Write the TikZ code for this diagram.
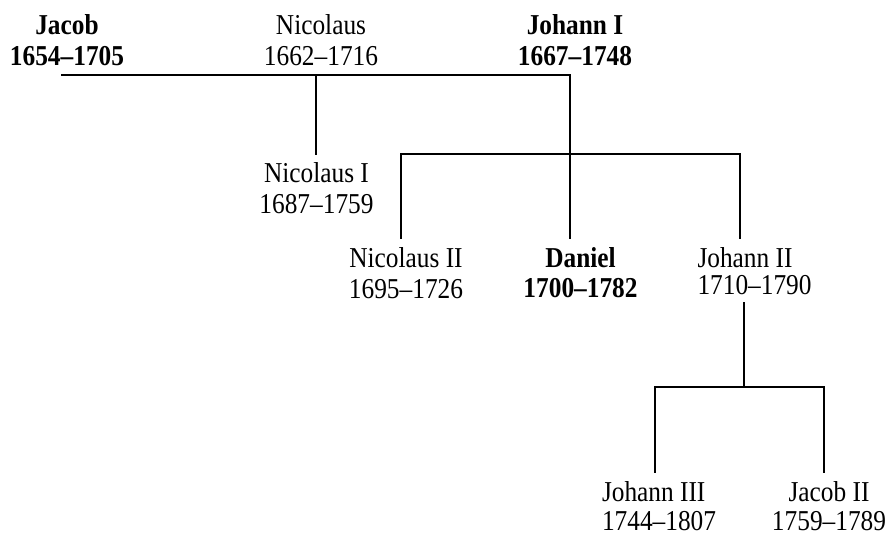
\documentclass[tikz,border=0pt]{standalone}
\usepackage{fontspec}
\setmainfont[FakeStretch=0.88]{Liberation Serif}
\begin{document}
\begin{tikzpicture}[x=1pt,y=1pt,
  person/.style={inner sep=0pt, outer sep=0pt, align=center, anchor=north,
    font=\fontsize{28.8}{31}\selectfont},
  personl/.style={person, align=left, anchor=north west},
  boldp/.style={person, font=\fontsize{28.8}{31}\selectfont\bfseries},
  link/.style={line width=2pt, line cap=rect}]
\useasboundingbox (0,0) rectangle (888,538);

% people
\node[boldp] (jacob) at (67,523) {Jacob\\1654--1705};
\node[person] (nicolaus) at (321,523) {Nicolaus\\1662--1716};
\node[boldp] (johannI) at (575,523) {Johann I\\1667--1748};
\node[person] (nicolausI) at (316.5,375) {Nicolaus I\\1687--1759};
\node[person] (nicolausII) at (406,290) {Nicolaus II\\1695--1726};
\node[boldp, font=\fontsize{28.8}{30}\selectfont\bfseries] (daniel) at (580.5,290) {Daniel\\1700--1782};
\node[personl, font=\fontsize{28.8}{27}\selectfont] (johannII) at (697.5,290) {Johann II\\1710--1790};
\node[personl, font=\fontsize{28.8}{29}\selectfont] (johannIII) at (602,56) {Johann III\\1744--1807};
\node[person, font=\fontsize{28.8}{29}\selectfont] (jacobII) at (829,56) {Jacob II\\1759--1789};

% junction points
\coordinate (barL) at (62,463);
\coordinate (barN) at (316,463);
\coordinate (barR) at (570,463);
\coordinate (endNI) at (316,384);
\coordinate (midL) at (401,384);
\coordinate (midC) at (570,384);
\coordinate (midR) at (740,384);
\coordinate (endNII) at (401,300);
\coordinate (endD) at (570,300);
\coordinate (endJII) at (740,300);
\coordinate (startJII) at (744,235);
\coordinate (lowC) at (744,151);
\coordinate (lowL) at (655,151);
\coordinate (lowR) at (824,151);
\coordinate (endJIII) at (655,66);
\coordinate (endJacII) at (824,66);

% connectors
\draw[link] (barL) -- (barR);
\draw[link] (barN) -- (endNI);
\draw[link] (barR) -- (endD);
\draw[link] (endNII) -- (midL) -- (midR) -- (endJII);
\draw[link] (startJII) -- (lowC);
\draw[link] (endJIII) -- (lowL) -- (lowR) -- (endJacII);
\end{tikzpicture}
\end{document}
